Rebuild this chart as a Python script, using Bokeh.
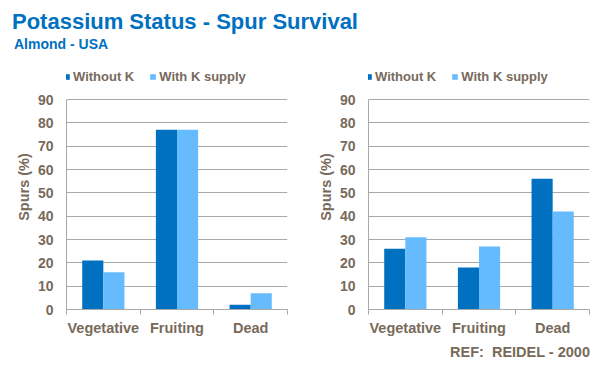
import numpy as np
from bokeh.plotting import figure
from bokeh.models import Range1d, FixedTicker, Legend, LegendItem, Div, ColumnDataSource
from bokeh.layouts import column, row
from bokeh.embed import file_html
from bokeh.resources import INLINE

# ---- data ----
categories = ["Vegetative", "Fruiting", "Dead"]
series_names = ["Without K", "With K supply"]
left_without = [21, 77, 2]
left_with = [16, 77, 7]
right_without = [26, 18, 56]
right_with = [31, 27, 42]
y_ticks = [0, 10, 20, 30, 40, 50, 60, 70, 80, 90]
title_text = "Potassium Status - Spur Survival"
subtitle_text = "Almond - USA"
ref_text = "REF:\u00a0 REIDEL - 2000"

DARK = "#0070C0"
LIGHT = "#66BBFF"
TXT = "#786A5B"
GRID = "#A8A8A8"
FONT = "Liberation Sans"

FIG_H = 278
BORDER_TOP = 2
BORDER_BOTTOM = 31
AXIS_PX = 210  # pixel height of the 0..90 value axis
Y_MAX = max(y_ticks)
Y_END = Y_MAX * (FIG_H - BORDER_TOP - BORDER_BOTTOM) / AXIS_PX  # headroom for the legend


def make_chart(without, with_, bl, br, ylabel):
    p = figure(width=292, height=FIG_H, x_range=Range1d(0, 3), y_range=Range1d(0, Y_END),
               output_backend="svg", toolbar_location=None,
               min_border_left=bl, min_border_right=br,
               min_border_top=BORDER_TOP, min_border_bottom=BORDER_BOTTOM)
    p.outline_line_color = None
    centers = np.arange(len(categories)) + 0.5
    bw = 0.2866
    src = ColumnDataSource(dict(xa=centers - bw / 2, xb=centers + bw / 2, a=without, b=with_))
    r1 = p.vbar(x="xa", top="a", width=bw, source=src, fill_color=DARK, line_color=None)
    r2 = p.vbar(x="xb", top="b", width=bw, source=src, fill_color=LIGHT, line_color=None)

    xa = p.xaxis[0]
    xa.ticker = FixedTicker(ticks=list(centers), minor_ticks=list(range(len(categories) + 1)))
    xa.major_label_overrides = {float(c): n for c, n in zip(centers, categories)}
    xa.major_tick_line_color = None
    xa.major_tick_out = 0
    xa.major_tick_in = 0
    xa.minor_tick_out = 5
    xa.minor_tick_in = 0
    xa.minor_tick_line_color = GRID
    xa.axis_line_color = GRID
    xa.major_label_standoff = 5
    xa.major_label_text_font = FONT
    xa.major_label_text_font_style = "bold"
    xa.major_label_text_font_size = "14.5px"
    xa.major_label_text_color = TXT

    ya = p.yaxis[0]
    ya.ticker = FixedTicker(ticks=y_ticks)
    ya.bounds = (0, Y_MAX)
    ya.major_tick_out = 0
    ya.major_tick_in = 0
    ya.minor_tick_line_color = None
    ya.axis_line_color = GRID
    ya.major_label_standoff = 13
    ya.major_label_text_font = FONT
    ya.major_label_text_font_style = "bold"
    ya.major_label_text_font_size = "14px"
    ya.major_label_text_color = TXT
    ya.axis_label = ylabel
    ya.axis_label_standoff = 3
    ya.axis_label_text_font = FONT
    ya.axis_label_text_font_style = "bold"
    ya.axis_label_text_font_size = "14.5px"
    ya.axis_label_text_color = TXT

    p.xgrid.grid_line_color = None
    p.ygrid.ticker = FixedTicker(ticks=y_ticks)
    p.ygrid.grid_line_color = GRID

    legend = Legend(items=[LegendItem(label=series_names[0], renderers=[r1]),
                           LegendItem(label=series_names[1], renderers=[r2])],
                    orientation="horizontal", location=(-3, 225))
    legend.glyph_width = 7
    legend.glyph_height = 7
    legend.label_height = 14
    legend.label_standoff = 3
    legend.spacing = 15
    legend.padding = 0
    legend.margin = 0
    legend.border_line_color = None
    legend.background_fill_alpha = 0
    legend.label_text_font = FONT
    legend.label_text_font_style = "bold"
    legend.label_text_font_size = "13px"
    legend.label_text_color = TXT
    p.add_layout(legend, "center")
    return p


p1 = make_chart(left_without, left_with, 58, 13, "Spurs (%)")
p2 = make_chart(right_without, right_with, 68, 3, "Spurs (%)")

header = Div(text=(
    f'<div style="font-family:\'{FONT}\';font-weight:bold;color:{DARK};">'
    f'<div style="font-size:22px;line-height:24px;padding-top:2px;padding-left:4px;white-space:nowrap;">{title_text}</div>'
    f'<div style="font-size:14px;line-height:16px;padding-top:2px;padding-left:6px;white-space:nowrap;">{subtitle_text}</div>'
    '</div>'), width=584, height=54, margin=0)

footer = Div(text=(
    f'<div style="font-family:\'{FONT}\';font-weight:bold;color:{TXT};font-size:14.5px;'
    f'line-height:16px;padding-top:4px;text-align:right;width:582px;white-space:nowrap;">{ref_text}</div>'),
    width=584, height=23, margin=0)

layout = column(header, row(p1, p2), footer, margin=(8, 8, 8, 8))

open("out.html", "w").write(file_html(layout, INLINE))
